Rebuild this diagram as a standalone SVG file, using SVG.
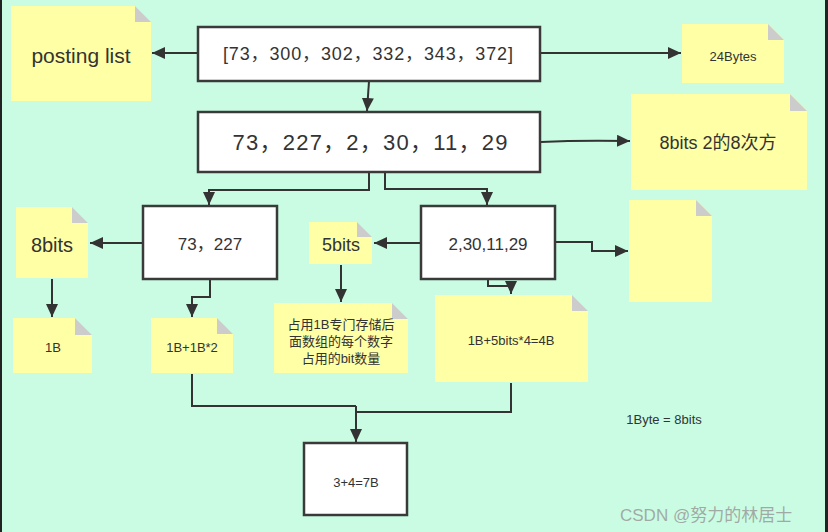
<svg xmlns="http://www.w3.org/2000/svg" width="828" height="532" viewBox="0 0 828 532">
<style>
.box{fill:#ffffff;stroke:#3a3a3a;stroke-width:2.5}
.note{fill:#ffffa6}
.fold{fill:#cccccc}
.t{font-family:"Liberation Sans","Noto Sans CJK SC",sans-serif;fill:#333;text-anchor:middle}
.wm{font-family:"Liberation Sans","Noto Sans CJK SC",sans-serif;fill:#9a9a9a;fill-opacity:0.85}
.c{fill:none;stroke:#333;stroke-width:2}
</style>
<defs>
<marker id="ah" markerUnits="userSpaceOnUse" markerWidth="14" markerHeight="12" refX="13" refY="6" orient="auto">
<path d="M0,0 L13,6 L0,12 Z" fill="#333"/>
</marker>
</defs>
<rect x="0" y="0" width="828" height="532" fill="#c9fce2"/>
<rect x="0" y="0" width="2" height="532" fill="#222"/>
<rect x="825" y="0" width="3" height="532" fill="#222"/>

<g id="connectors">
<path class="c" d="M197,53 H152" marker-end="url(#ah)"/>
<path class="c" d="M541,53 H681" marker-end="url(#ah)"/>
<path class="c" d="M369,81 L367,111" marker-end="url(#ah)"/>
<path class="c" d="M541,142 Q580,140 630,141" marker-end="url(#ah)"/>
<path class="c" d="M369,173 V190 H209 V205" marker-end="url(#ah)"/>
<path class="c" d="M385,173 V189 H487 V205" marker-end="url(#ah)"/>
<path class="c" d="M142,243 H90" marker-end="url(#ah)"/>
<path class="c" d="M52,279 V317" marker-end="url(#ah)"/>
<path class="c" d="M210,280 V297 H192 V317" marker-end="url(#ah)"/>
<path class="c" d="M420,243 H374" marker-end="url(#ah)"/>
<path class="c" d="M341,265 V302" marker-end="url(#ah)"/>
<path class="c" d="M556,242 H592 V251 H628" marker-end="url(#ah)"/>
<path class="c" d="M488,280 V286 H511 V294" marker-end="url(#ah)"/>
<path class="c" d="M192,374 V406 H356"/>
<path class="c" d="M511,383 V412 H356"/>
<path class="c" d="M356,406 V442" marker-end="url(#ah)"/>
</g>

<g id="boxA">
<rect class="box" x="198" y="27" width="342" height="54"/>
<text class="t" x="368" y="60" font-size="18" textLength="290" lengthAdjust="spacing">[73，300，302，332，343，372]</text>
</g>
<g id="boxB">
<rect class="box" x="198" y="112" width="342" height="60"/>
<text class="t" x="370" y="150" font-size="22" textLength="275" lengthAdjust="spacing">73，227，2，30，11，29</text>
</g>
<g id="boxC">
<rect class="box" x="143" y="206" width="134" height="73"/>
<text class="t" x="210" y="250" font-size="17">73，227</text>
</g>
<g id="boxD">
<rect class="box" x="421" y="206" width="134" height="73"/>
<text class="t" x="488" y="250" font-size="17">2,30,11,29</text>
</g>
<g id="boxE">
<rect class="box" x="304" y="443" width="103" height="72"/>
<text class="t" x="356" y="487" font-size="13">3+4=7B</text>
</g>

<g id="notePosting">
<polygon class="note" points="11,6 135,6 151,22 151,101 11,101"/>
<polygon class="fold" points="135,6 151,22 135,22"/>
<text class="t" x="81" y="63" font-size="21">posting list</text>
</g>
<g id="note24">
<polygon class="note" points="682,24 768,24 784,40 784,83 682,83"/>
<polygon class="fold" points="768,24 784,40 768,40"/>
<text class="t" x="733" y="61" font-size="13">24Bytes</text>
</g>
<g id="note8bits2">
<polygon class="note" points="631,94 790,94 807,111 807,190 631,190"/>
<polygon class="fold" points="790,94 807,111 790,111"/>
<text class="t" x="718" y="149" font-size="18">8bits 2的8次方</text>
</g>
<g id="note8bits">
<polygon class="note" points="16,207 72,207 88,223 88,278 16,278"/>
<polygon class="fold" points="72,207 88,223 72,223"/>
<text class="t" x="52" y="252" font-size="20">8bits</text>
</g>
<g id="note1B">
<polygon class="note" points="13,318 75,318 92,335 92,373 13,373"/>
<polygon class="fold" points="75,318 92,335 75,335"/>
<text class="t" x="53" y="352" font-size="13">1B</text>
</g>
<g id="note1B2">
<polygon class="note" points="151,318 217,318 233,334 233,373 151,373"/>
<polygon class="fold" points="217,318 233,334 217,334"/>
<text class="t" x="192" y="352" font-size="13">1B+1B*2</text>
</g>
<g id="note5bits">
<polygon class="note" points="309,222 357,222 372,237 372,264 309,264"/>
<polygon class="fold" points="357,222 372,237 357,237"/>
<text class="t" x="341" y="251" font-size="18">5bits</text>
</g>
<g id="noteDesc">
<polygon class="note" points="274,303 392,303 408,319 408,373 274,373"/>
<polygon class="fold" points="392,303 408,319 392,319"/>
<text class="t" x="341" y="329" font-size="13">占用1B专门存储后</text>
<text class="t" x="341" y="346" font-size="13">面数组的每个数字</text>
<text class="t" x="341" y="363" font-size="13">占用的bit数量</text>
</g>
<g id="noteEmpty">
<polygon class="note" points="629,200 696,200 712,216 712,302 629,302"/>
<polygon class="fold" points="696,200 712,216 696,216"/>
</g>
<g id="note4B">
<polygon class="note" points="435,295 572,295 588,311 588,382 435,382"/>
<polygon class="fold" points="572,295 588,311 572,311"/>
<text class="t" x="511" y="345" font-size="13">1B+5bits*4=4B</text>
</g>

<text class="t" x="664" y="424" font-size="13">1Byte = 8bits</text>
<text class="wm" x="620" y="521" font-size="17">CSDN @努力的林居士</text>
</svg>
